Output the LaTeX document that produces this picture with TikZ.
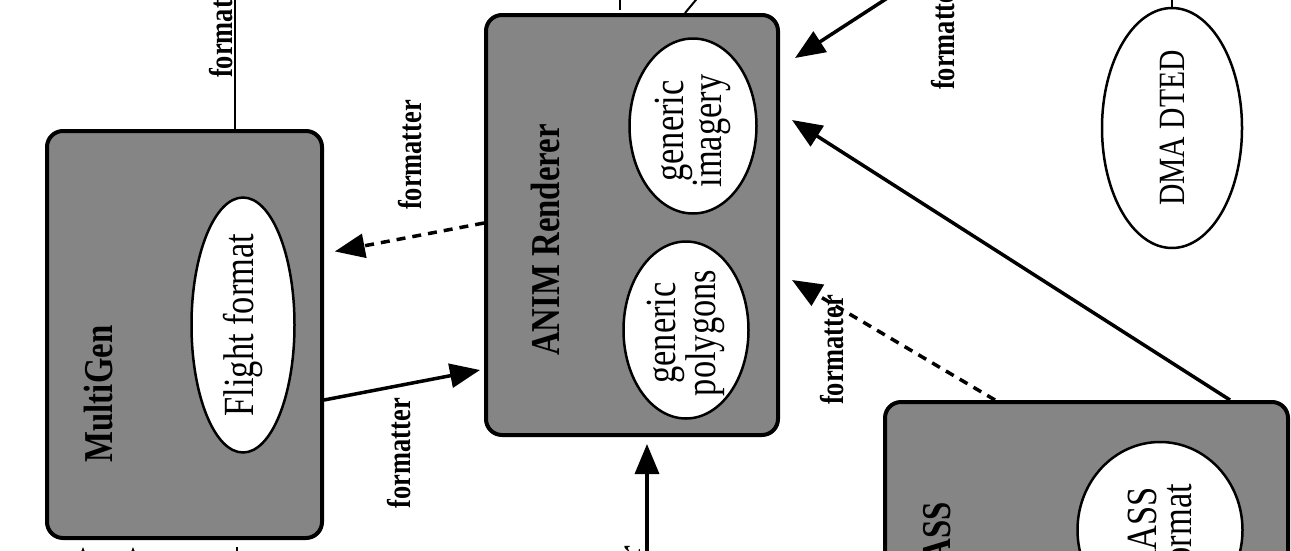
\documentclass[tikz,border=0pt]{standalone}
\usepackage{fontspec}
\setmainfont{Liberation Serif}
\newfontfamily\narrowserif[FakeStretch=0.8]{Liberation Serif}
\usetikzlibrary{shapes.geometric, arrows.meta, positioning, calc}
\definecolor{screen}{gray}{0.52}

\begin{document}
\begin{tikzpicture}[x=1pt, y=-1pt,
    box/.style={draw, line width=4pt, rounded corners=16pt, fill=screen, inner sep=0pt},
    blob/.style={ellipse, draw, line width=2.5pt, fill=white, inner sep=0pt},
    blobtext/.style={rotate=90, align=center, inner sep=0pt,
        font=\narrowserif\fontsize{43}{35}\selectfont},
    title/.style={rotate=90, inner sep=0pt, font=\narrowserif\fontsize{41}{41}\selectfont\bfseries},
    lbl/.style={rotate=90, inner sep=0pt, font=\narrowserif\fontsize{33}{33}\selectfont\bfseries},
    flow/.style={line width=3.5pt, -{Triangle[length=30pt, width=24pt]}},
    fmtflow/.style={flow, dash pattern=on 9pt off 7pt},
    wire/.style={line width=2pt}]
    \useasboundingbox (0,0) rectangle (1291,550);
    \clip (0,0) rectangle (1291,550);

    % MultiGen
    \node[box, minimum width=275pt, minimum height=407pt] (mg) at (184.5,334.5) {};
    \node[title] (mgname) at (99,394) {MultiGen};
    \node[blob, minimum width=103pt, minimum height=255pt] (flight) at (243,325) {};
    \node[blobtext] (flighttxt) at (flight) {Flight format};

    % ANIM Renderer
    \node[box, minimum width=292pt, minimum height=420pt] (anim) at (632,225) {};
    \node[title] (animname) at (545,240) {ANIM Renderer};
    \node[blob, minimum width=127pt, minimum height=175pt] (imagery) at (693,126) {};
    \node[blobtext] (imagerytxt) at ([yshift=-5pt]imagery) {generic\\imagery};
    \node[blob, minimum width=125pt, minimum height=177pt] (polys) at (686,330) {};
    \node[blobtext] (polystxt) at ([yshift=-3pt]polys) {generic\\polygons};

    % RASS
    \node[box, minimum width=403pt, minimum height=316pt] (rass) at (1086.5,560) {};
    \node[title, anchor=east] (rassname) at (937,502) {RASS};
    \node[blob, minimum width=165pt, minimum height=176pt] (rassfmt) at (1160,530) {};
    \node[blobtext] (rassfmttxt) at (rassfmt) {RASS\\format};

    % DMA DTED
    \node[blob, minimum width=140pt, minimum height=240pt] (dted) at (1172,128) {};
    \node[blobtext, font=\narrowserif\fontsize{37}{37}\selectfont] (dtedtxt) at (dted) {DMA DTED};

    % Loose ends at the edge of the sheet
    \coordinate (mgup) at (235,-5);
    \coordinate (animtick) at (620,-5);
    \coordinate (animup) at (700,-5);
    \coordinate (topin) at (889,-3);
    \coordinate (animdown) at (647,600);

    % Connectors
    \draw[wire] ([xshift=50.5pt]mg.north) -- (mgup);
    \draw[wire] (animtick) -- ++(0,15);
    \draw[wire] (animup) -- ([xshift=53pt]anim.north);
    \draw[wire] (dted.north) -- ++(0,-20);
    \draw[fmtflow, shorten >=11pt] ([yshift=2pt]anim.west) -- ([yshift=81pt]mg.east);
    \draw[flow] ([yshift=-65.5pt]mg.east) -- ([yshift=-145pt, xshift=-4pt]anim.west);
    \draw[flow, shorten >=7pt] (animdown) -- ([xshift=15pt]anim.south);
    \draw[flow] (topin) -- ([xshift=15pt, yshift=167pt]anim.east);
    \draw[flow] ([xshift=143.5pt]rass.north) -- ([xshift=12pt, yshift=105pt]anim.east);
    \draw[fmtflow] ([xshift=-91.5pt]rass.north) -- ([xshift=12pt, yshift=-55pt]anim.east);
    \foreach \dx in {-101.5, -51.5}
        \draw[flow] ([xshift=\dx pt, yshift=-62pt]mg.south) -- ([xshift=\dx pt, yshift=-7pt]mg.south);
    \draw[wire] ([xshift=52.5pt, yshift=-7pt]mg.south) -- ++(0,20);

    % Labels
    \node[lbl, anchor=west] (f1) at (221,78) {formatter};
    \node[lbl] (f2) at (410,155) {formatter};
    \node[lbl, anchor=east] (f3) at (399,398) {formatter};
    \node[lbl] (f4) at (832,350) {formatter};
    \node[lbl, anchor=west] (f5) at (943,90) {formatter};
    \node[lbl, anchor=east] (f6) at (629,546) {formatter};
\end{tikzpicture}
\end{document}
